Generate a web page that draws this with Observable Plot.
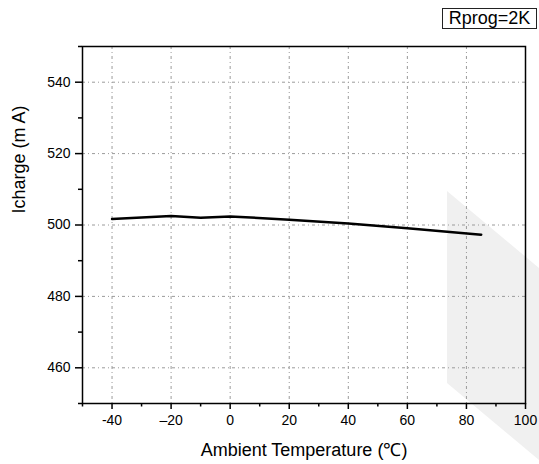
<!DOCTYPE html>
<html>
<head>
<meta charset="utf-8">
<script src="https://cdn.jsdelivr.net/npm/d3@7"></script>
<script src="https://cdn.jsdelivr.net/npm/@observablehq/plot@0.6"></script>
<style>
  html, body { margin: 0; padding: 0; background: white; }
  #wrap { position: relative; width: 539px; height: 464px; font-family: "Liberation Sans", Arial, sans-serif; }
  #shade { position: absolute; left: 0; top: 0; width: 539px; height: 464px; background: #f0f0f0;
           clip-path: polygon(447px 191px, 539px 268px, 539px 460px, 447px 383px); }
  #chart { position: absolute; left: 0; top: 0; }
  #legend { position: absolute; left: 442px; top: 8px; width: 93px; height: 19px; border: 1px solid #222;
            font-size: 18px; line-height: 19px; text-align: center; color: #000; background: white; }
</style>
</head>
<body>
<div id="wrap">
  <div id="shade"></div>
  <div id="chart"></div>
  <div id="legend">Rprog=2K</div>
</div>
<script>
// Data
const temperature = [-40, -20, -10, 0, 20, 40, 60, 85];
const icharge     = [501.7, 502.5, 502.0, 502.4, 501.5, 500.4, 499.1, 497.3];

const xTicks = [-40, -20, 0, 20, 40, 60, 80, 100];
const xTickLabels = ["-40", "\u201320", "0", "20", "40", "60", "80", "100"];
const xMinorTicks = [-50, -30, -10, 10, 30, 50, 70, 90];
const yTicks = [460, 480, 500, 520, 540];
const yMinorTicks = [450, 470, 490, 510, 530, 550];

const xLabel = "Ambient Temperature (\u2103)";
const yLabel = "Icharge (m A)";

const data = temperature.map((t, i) => ({t, i: icharge[i]}));
const xFmt = d => xTickLabels[xTicks.indexOf(d)];

const chart = Plot.plot({
  width: 539,
  height: 464,
  marginLeft: 82,
  marginRight: 14,
  marginTop: 46,
  marginBottom: 61,
  style: {background: "transparent", fontFamily: "'Liberation Sans', Arial, sans-serif", fontSize: "14px", color: "black", overflow: "visible"},
  x: {domain: [-50, 100]},
  y: {domain: [450, 550]},
  marks: [
    Plot.gridX(xTicks.filter(d => d < 100), {stroke: "#9a9a9a", strokeOpacity: 1, strokeWidth: 1, strokeDasharray: "3,3,1,3"}),
    Plot.gridY(yTicks, {stroke: "#9a9a9a", strokeOpacity: 1, strokeWidth: 1, strokeDasharray: "3,3,1,3"}),
    Plot.axisX({ticks: xMinorTicks, tickSize: 3.5, text: null, label: null, stroke: "black", strokeWidth: 1.5}),
    Plot.axisX({ticks: xTicks, tickSize: 6, tickPadding: 6, tickFormat: xFmt, label: null, stroke: "black", strokeWidth: 1.5, fill: "black"}),
    Plot.axisY({ticks: yMinorTicks, tickSize: 4, text: null, label: null, stroke: "black", strokeWidth: 1.5}),
    Plot.axisY({ticks: yTicks, tickSize: 7, tickPadding: 5, label: null, stroke: "black", strokeWidth: 1.5, fill: "black"}),
    Plot.frame({stroke: "black", strokeWidth: 1.5}),
    Plot.line(data, {x: "t", y: "i", stroke: "black", strokeWidth: 2.5}),
    Plot.text([xLabel], {frameAnchor: "bottom", dy: 47, text: d => d, fontSize: 18, fill: "black", lineAnchor: "middle"}),
    Plot.text([yLabel], {frameAnchor: "left", dx: -63, dy: -11.5, text: d => d, fontSize: 18, fill: "black", rotate: -90, lineAnchor: "middle"})
  ]
});
document.getElementById("chart").appendChild(chart);
</script>
</body>
</html>
